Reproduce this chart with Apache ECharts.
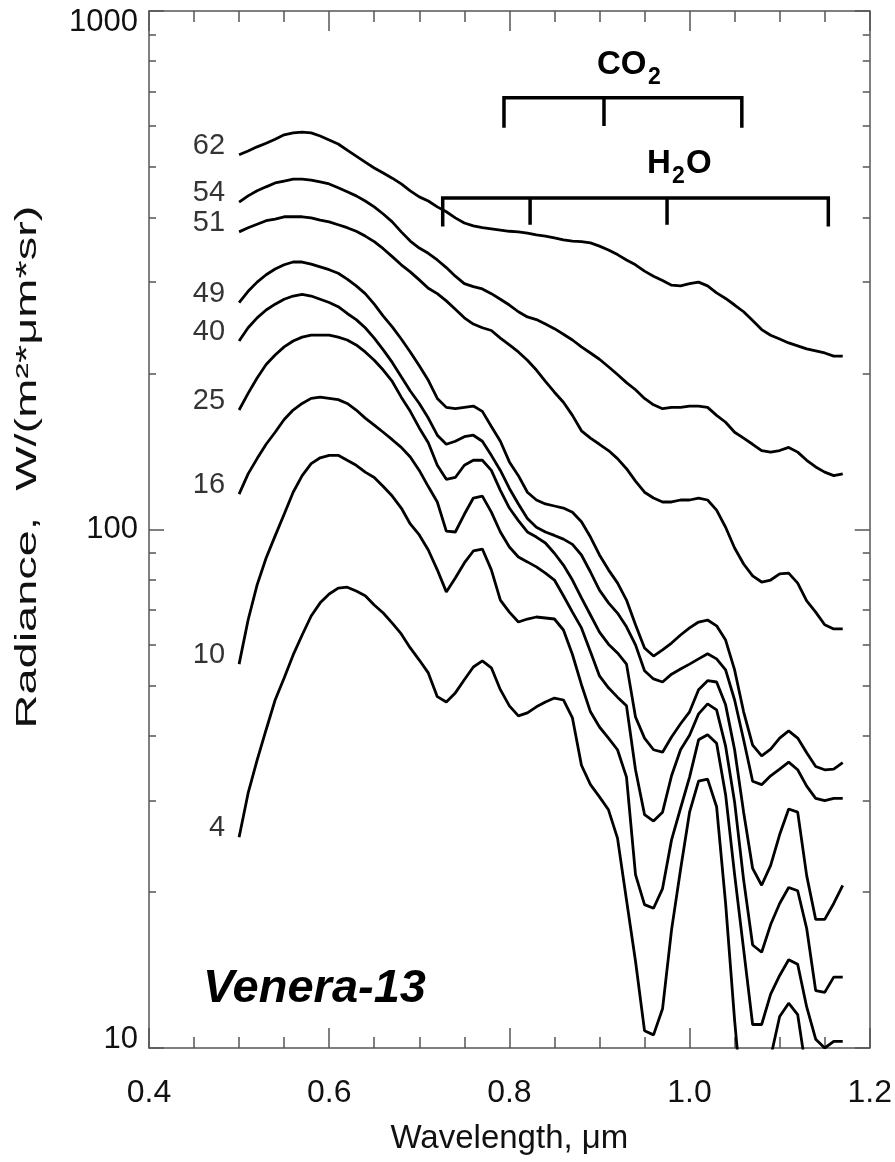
<!DOCTYPE html>
<html><head><meta charset="utf-8">
<script src="https://cdn.jsdelivr.net/npm/echarts@6.0.0/dist/echarts.min.js"></script>
<style>html,body{margin:0;padding:0;background:#fff}#c{width:895px;height:1162px}</style>
</head><body><div id="c"></div>
<script>
// ---------- data ----------
const wavelengths = [0.50,0.51,0.52,0.53,0.54,0.55,0.56,0.57,0.58,0.59,
  0.60,0.61,0.62,0.63,0.64,0.65,0.66,0.67,0.68,0.69,
  0.70,0.71,0.72,0.73,0.74,0.75,0.76,0.77,0.78,0.79,
  0.80,0.81,0.82,0.83,0.84,0.85,0.86,0.87,0.88,0.89,
  0.90,0.91,0.92,0.93,0.94,0.95,0.96,0.97,0.98,0.99,
  1.00,1.01,1.02,1.03,1.04,1.05,1.06,1.07,1.08,1.09,
  1.10,1.11,1.12,1.13,1.14,1.15,1.16,1.17];
const r62 = [528,537,547,556,566,577,582,584,582,574,
  564,554,539,525,511,498,487,476,464,450,
  438,430,419,410,399,390,385,382,380,378,
  376,375,373,370,368,365,362,360,359,357,
  352,346,339,331,324,315,308,302,296,295,
  298,300,295,286,279,271,263,253,243,237,
  233,229,226,223,221,219,216,216];
const r54 = [428,440,450,458,466,470,474,474,472,468,
  464,456,448,440,430,419,406,392,375,360,
  349,341,331,320,308,298,294,291,285,278,
  271,263,257,254,249,244,238,232,225,219,
  213,206,199,192,186,179,174,171,172,172,
  173,173,172,166,161,154,150,146,142,141,
  142,144,141,136,132,129,127,128];
const r51 = [375,382,388,394,397,401,401,401,399,395,
  392,387,382,376,368,359,348,336,324,314,
  303,292,285,276,266,256,249,245,242,234,
  227,220,212,203,193,184,176,166,155,150,
  146,142,137,131,124,118,115,113,113,114,
  114,115,114,109,101,92.1,85.8,81.4,79.2,79.9,
  82.1,82.4,78.8,72.8,69.3,65.5,64.3,64.3];
const r49 = [274,288,300,310,318,324,328,328,325,321,
  317,312,304,295,285,272,258,246,233,220,
  207,194,179,172,171,172,173,169,158,148,
  135,127,118,114,112,111,110,108,103.5,96.7,
  89.3,83.6,78.9,73.1,65.5,59.1,57.0,58.6,60.4,62.6,
  64.6,66.3,66.9,65.2,61.2,53.6,44.5,38.4,36.6,37.7,
  39.6,40.9,39.6,37.1,34.9,34.4,34.5,35.5];
const r40 = [231,245,256,265,272,278,282,284,282,278,
  274,269,261,254,245,234,222,210,197,185,
  175,164,152,146,148,151,152,148,139,130,
  120,112,105,101,98.9,97.4,95.8,93.6,89.3,82.8,
  76.4,72.2,69.0,64.9,59.9,53.4,51.5,50.8,52.6,53.8,
  55.0,56.3,57.6,56.3,53.6,46.9,39.3,32.7,32.2,33.5,
  34.5,35.6,34.4,32.0,30.3,30.0,30.3,30.3];
const r25 = [170,183,196,208,217,225,231,235,237,237,
  237,235,232,227,220,212,203,193,180,169,
  157,147,133,125,126,133,136,136,130,119,
  110,104,98.9,96.7,94.2,90.0,85.4,79.9,73.8,68.4,
  63.4,60.1,57.8,55.0,43.5,39.6,37.6,37.2,39.8,42.2,
  44.5,49.1,51.1,50.8,45.9,37.6,28.5,22.2,20.6,22.5,
  25.8,28.9,28.5,21.5,17.7,17.7,19.0,20.6];
const r16 = [117,128,137,146,154,163,170,175,179,180,
  179,178,175,170,164,159,154,149,144,138,
  130,121,113,99.3,98.9,107,115,116,108,98.9,
  92.5,88.5,86.6,84.7,82.4,79.9,74.5,69.3,64.6,58.1,
  52.2,49.5,47.5,45.7,34.4,28.2,27.4,28.5,33.5,37.6,
  40.1,44.1,46.1,44.9,38.2,29.8,21.1,15.8,15.3,17.3,
  19.0,20.4,20.1,17.0,12.9,12.8,13.7,13.7];
const r10 = [55.0,66.9,78.2,88.1,97.2,107,118,127,134,137.5,
  139,139,136,133,129,126,121,116,110,102.5,
  97.6,91.3,83.6,75.8,80.6,86.2,90.9,91.7,83.6,73.1,
  69.3,66.3,67.2,67.8,67.5,67.2,64.0,57.4,50.2,44.5,
  41.6,39.6,37.6,33.3,21.6,18.9,18.6,20.3,25.2,29.0,
  33.3,39.3,40.2,38.7,30.8,21.6,15.5,11.1,11.1,12.7,
  13.8,14.8,14.5,12.0,10.4,10.0,10.3,10.3];
const r4 = [25.5,31.0,35.9,41.1,46.9,51.7,57.3,62.6,68.1,72.2,
  75.1,77.1,77.4,76.1,74.5,71.5,69.0,66.0,62.9,59.1,
  56.0,52.9,47.6,46.5,48.4,51.3,54.3,55.8,54.1,49.1,
  45.7,43.7,44.3,45.5,46.5,47.3,46.9,43.3,35.1,32.2,
  30.5,28.8,25.4,19.3,14.7,10.8,10.6,11.9,16.9,22.1,
  28.5,32.7,33.0,29.2,19.0,11.3,7.3,6.0,6.5,9.6,
  11.5,12.2,11.6,8.9,8.0,7.5,7.5,7.5];
const curveNames = ['62','54','51','49','40','25','16','10','4'];
const curveValues = [r62,r54,r51,r49,r40,r25,r16,r10,r4];

const yMajorTicks = [10,100,1000];
const yMinorTicks = [20,30,40,50,60,70,80,90,200,300,400,500,600,700,800,900];

const co2Bands = [0.794,0.905,1.058];
const co2Bracket = [600,680];   // radiance of tick bottom / bar
const h2oBands = [0.726,0.823,0.975,1.154];
const h2oBracket = [387,436];

// ---------- chart ----------
const FONT = "'Liberation Sans', Arial, Helvetica, sans-serif";
const AX = '#555';
const chart = echarts.init(document.getElementById('c'), null, {renderer:'canvas'});

const series = [];
curveValues.forEach((vals, k) => {
  series.push({
    type:'line', name: curveNames[k], data: wavelengths.map((w,i)=>[w, vals[i]]),
    symbol:'none', smooth:false, clip:true,
    lineStyle:{color:'#000', width:2.8}, z:3, silent:true
  });
});
series.push({
  type:'scatter', name:'labels', symbolSize:0, silent:true, z:4,
  data: curveValues.map((vals,k)=>[wavelengths[0], vals[0], curveNames[k]]),
  label:{show:true, position:'left', distance:14, offset:[0,-9], formatter:p=>p.value[2],
    fontFamily:FONT, fontSize:29, color:'#000'}
});
function bracket(bands, lv){
  const out = [];
  const n = bands.length;
  out.push({type:'line', symbol:'none', clip:false, silent:true, z:5,
    lineStyle:{color:'#000', width:3.5, cap:'square', join:'miter'},
    data:[[bands[0],lv[0]],[bands[0],lv[1]],[bands[n-1],lv[1]],[bands[n-1],lv[0]]]});
  for(let i=1;i<n-1;i++){
    out.push({type:'line', symbol:'none', clip:false, silent:true, z:5,
      lineStyle:{color:'#000', width:3.5},
      data:[[bands[i],lv[1]],[bands[i],lv[0]]]});
  }
  return out;
}
series.push(...bracket(co2Bands, co2Bracket), ...bracket(h2oBands, h2oBracket));

const xCommon = {type:'value', min:0.4, max:1.2, interval:0.2,
  axisLine:{show:true, onZero:false, lineStyle:{color:AX, width:1.5}},
  axisTick:{show:true, inside:true, length:20, lineStyle:{color:AX, width:1.5}},
  minorTick:{show:true, splitNumber:4, length:11, lineStyle:{color:AX, width:1.5}},
  splitLine:{show:false}, minorSplitLine:{show:false}};
const yCommon = {type:'log', logBase:10, min:10, max:1000,
  splitLine:{show:false}, minorTick:{show:false}};

const option = {
  animation:false,
  backgroundColor:'#fff',
  grid:{left:149, right:25, top:11, bottom:114, containLabel:false},
  xAxis:[
    Object.assign({}, xCommon, {position:'bottom',
      axisLabel:{show:true, formatter:v=>v.toFixed(1), fontFamily:FONT, fontSize:32, color:'#111', margin:29},
      name:'Wavelength, \u03bcm', nameLocation:'middle', nameGap:74,
      nameTextStyle:{fontFamily:FONT, fontSize:33, color:'#111'}}),
    Object.assign({}, xCommon, {position:'top', axisLabel:{show:false}})
  ],
  yAxis:[
    Object.assign({}, yCommon, {position:'left',
      axisLine:{show:true, onZero:false, lineStyle:{color:AX, width:1.5}},
      axisTick:{show:true, inside:true, length:15, customValues:yMajorTicks, lineStyle:{color:AX, width:1.5}},
      axisLabel:{show:true, customValues:yMajorTicks, margin:11, fontFamily:FONT, fontSize:31, color:'#111',
        formatter:v=> v>=1000 ? '{t|'+v+'}' : (v<=10 ? '{b|'+v+'}' : '{m|'+v+'}'),
        rich:{t:{fontFamily:FONT,fontSize:31,color:'#111',padding:[22,0,0,0]},
              b:{fontFamily:FONT,fontSize:31,color:'#111',padding:[0,0,18,0]},
              m:{fontFamily:FONT,fontSize:31,color:'#111'}}}}),
    Object.assign({}, yCommon, {position:'left',
      axisLine:{show:false}, axisLabel:{show:false},
      axisTick:{show:true, inside:true, length:7, customValues:yMinorTicks, lineStyle:{color:AX, width:1.5}}}),
    Object.assign({}, yCommon, {position:'right',
      axisLine:{show:true, onZero:false, lineStyle:{color:AX, width:1.5}}, axisLabel:{show:false},
      axisTick:{show:true, inside:true, length:15, customValues:yMajorTicks, lineStyle:{color:AX, width:1.5}}}),
    Object.assign({}, yCommon, {position:'right',
      axisLine:{show:false}, axisLabel:{show:false},
      axisTick:{show:true, inside:true, length:7, customValues:yMinorTicks, lineStyle:{color:AX, width:1.5}}})
  ],
  series: series,
  graphic:[
    {type:'text', x:28, y:467, rotation:Math.PI/2, scaleX:1.62,
      style:{text:'Radiance,  W/(m\u00b2*\u03bcm*sr)', font:"29px 'Liberation Sans', Arial, sans-serif", fill:'#111', align:'center', verticalAlign:'middle'}, z:10},
    {type:'text', x:203, y:989, style:{text:'Venera-13', font:"italic bold 47px 'Liberation Sans', Arial, sans-serif", fill:'#000', verticalAlign:'middle'}, z:10},
    {type:'text', x:597, y:65, style:{text:'CO', font:"bold 33px 'Liberation Sans', Arial, sans-serif", fill:'#000', verticalAlign:'middle'}, z:10},
    {type:'text', x:648, y:78, style:{text:'2', font:"bold 23px 'Liberation Sans', Arial, sans-serif", fill:'#000', verticalAlign:'middle'}, z:10},
    {type:'text', x:647, y:164, style:{text:'H', font:"bold 33px 'Liberation Sans', Arial, sans-serif", fill:'#000', verticalAlign:'middle'}, z:10},
    {type:'text', x:672, y:177, style:{text:'2', font:"bold 23px 'Liberation Sans', Arial, sans-serif", fill:'#000', verticalAlign:'middle'}, z:10},
    {type:'text', x:686, y:164, style:{text:'O', font:"bold 33px 'Liberation Sans', Arial, sans-serif", fill:'#000', verticalAlign:'middle'}, z:10}
  ]
};
chart.setOption(option);
</script></body></html>
